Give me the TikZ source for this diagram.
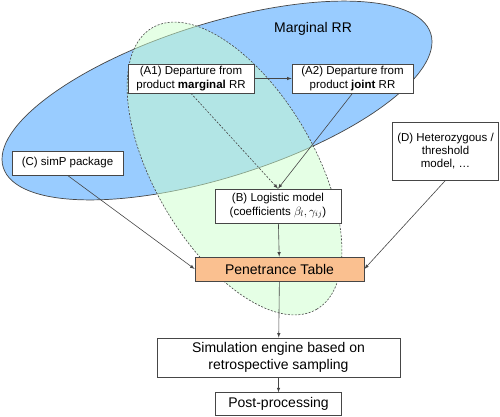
\documentclass[tikz,border=0pt]{standalone}
\usepackage{amsmath, amssymb}
\usepackage{fontspec}
\setmainfont{Liberation Sans}
\usetikzlibrary{positioning}
\usetikzlibrary{shapes}

\definecolor{rrblue}{RGB}{153,204,255}
\definecolor{lgreen}{RGB}{204,255,204}
\definecolor{penorange}{RGB}{250,192,144}
\definecolor{dgrey}{RGB}{70,70,70}

\begin{document}
\begin{tikzpicture}[
x=1pt, y=-1pt,
arr/.style={draw=dgrey, line width=0.6pt, -latex},
small/.style={font=\fontsize{11.5}{13.3}\selectfont},
big/.style={font=\fontsize{14}{17}\selectfont}
]

\tikzstyle{b} = [draw=dgrey, line width=0.7pt, shape=rectangle, fill=white, align=center, inner sep=1pt, small]
\useasboundingbox (0,0) rectangle (500,416);

% the two sets
\draw[draw=dgrey, line width=0.7pt, fill=rrblue, rotate around={17.4:(217,100.5)}]
    (217,100.5) ellipse [x radius=224pt, y radius=77pt];
\draw[draw=dgrey, line width=0.6pt, dash pattern=on 2pt off 1.5pt, fill=lgreen, fill opacity=0.5,
    rotate around={-59.7:(234.5,168.5)}]
    (234.5,168.5) ellipse [x radius=163pt, y radius=80pt];
\node[big] (mrr) at (313,29) {Marginal RR};

\node[b, minimum width=126pt, minimum height=29pt] (a1) at (191,78.5) {(A1) Departure from\\product \textbf{marginal} RR};
\node[b, minimum width=121pt, minimum height=29pt] (a2) at (352.5,78.5) {(A2) Departure from\\product \textbf{joint} RR};
\node[b, minimum width=111pt, minimum height=24pt] (c) at (67.5,163) {(C) simP package};
\node[b, minimum width=106pt, minimum height=58pt] (d) at (445.5,151) {(D) Heterozygous /\\threshold\\model, \dots};
\node[b, minimum width=126pt, minimum height=34pt] (bl) at (278,206) {(B) Logistic model\\(coefficients $\beta_l,\gamma_{ij}$)};
\node[b, big, fill=penorange, minimum width=169pt, minimum height=24pt] (pt) at (279.5,269) {Penetrance Table};
\node[b, big, minimum width=243pt, minimum height=39pt] (sim) at (278.5,357.5) {Simulation engine based on\\retrospective sampling};
\node[b, big, minimum width=126pt, minimum height=23pt, below=15pt of sim] (post) {Post-processing};

\draw[arr] (a1.east) -- (a2.west);
\draw[arr, dash pattern=on 2pt off 1.5pt] (a1.south) -- (bl.north);
\draw[arr] (a2.south) -- (bl.north);
\draw[arr] (c.south) -- (pt.west);
\draw[arr] (d.south) -- (pt.east);
\draw[arr] (bl) -- (pt);
\draw[arr] (pt) -- (sim);
\draw[arr] (sim) -- (post);
\end{tikzpicture}
\end{document}
